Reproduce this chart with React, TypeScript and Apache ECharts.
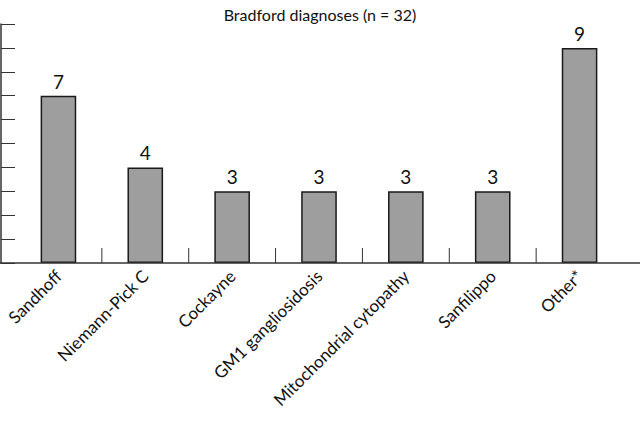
import React, { useEffect, useRef } from "react";
import * as echarts from "echarts";

const categories = [
  "Sandhoff",
  "Niemann-Pick C",
  "Cockayne",
  "GM1 gangliosidosis",
  "Mitochondrial cytopathy",
  "Sanfilippo",
  "Other*",
];
const counts = [7, 4, 3, 3, 3, 3, 9];
const boundaries = [1, 2, 3, 4, 5, 6];
const titleText = "Bradford diagnoses (n = 32)";

const FONT = "Lato, sans-serif";

export default function App() {
  const ref = useRef<HTMLDivElement>(null);
  useEffect(() => {
    if (!ref.current) return;
    const chart = echarts.init(ref.current, undefined, { renderer: "svg" });
    chart.setOption({
      animation: false,
      backgroundColor: "#ffffff",
      title: {
        text: titleText,
        left: "center",
        top: 1,
        textStyle: { fontFamily: FONT, fontSize: 16, fontWeight: "normal", color: "#111" },
      },
      grid: { left: 15, right: 17, top: 24, bottom: 158 },
      xAxis: {
        type: "category",
        data: categories,
        axisLine: { show: false },
        axisTick: { show: false },
        axisLabel: {
          rotate: 45,
          interval: 0,
          margin: 10,
          fontFamily: FONT,
          fontSize: 17,
          color: "#111",
        },
      },
      yAxis: {
        type: "value",
        min: 0,
        max: 10,
        interval: 1,
        offset: 14,
        axisLine: { show: true, lineStyle: { color: "#333", width: 1.5 } },
        axisTick: { show: true, inside: true, length: 14, lineStyle: { color: "#333", width: 1 } },
        axisLabel: { show: false },
        splitLine: { show: false },
      },
      graphic: [
        {
          type: "line",
          shape: { x1: 0, y1: 263, x2: 640, y2: 263 },
          style: { stroke: "#333", lineWidth: 1.5 },
          z: 100,
        },
      ],
      series: [
        {
          type: "bar",
          data: counts,
          barWidth: "41%",
          itemStyle: { color: "#9e9e9e", borderColor: "#1a1a1a", borderWidth: 1.5 },
          label: {
            show: true,
            position: "top",
            distance: 5,
            fontFamily: FONT,
            fontSize: 19,
            color: "#111",
          },
        },
        {
          type: "custom",
          data: boundaries.map((b) => [b, 0]),
          renderItem: (params: any, api: any) => {
            const c = api.coord([api.value(0), 0]);
            const w = api.size([1, 0])[0];
            const x = c[0] - w / 2;
            return {
              type: "line",
              shape: { x1: x, y1: c[1], x2: x, y2: c[1] - 15 },
              style: { stroke: "#333", lineWidth: 1 },
            };
          },
        },
      ],
    });
    return () => chart.dispose();
  }, []);
  return <div ref={ref} style={{ width: 640, height: 421, position: "absolute", left: 0, top: 0 }} />;
}
